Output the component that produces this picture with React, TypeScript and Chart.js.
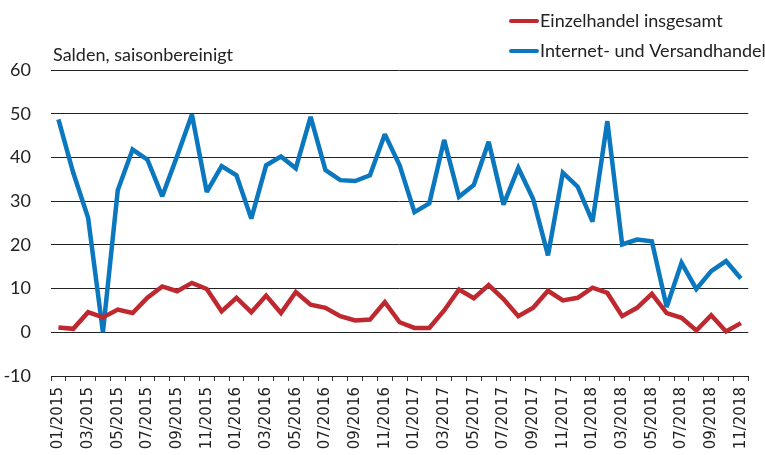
import React, { useEffect, useRef } from "react";
import { Chart, registerables } from "chart.js";

Chart.register(...registerables);

const months: string[] = [];
for (let y = 2015; y <= 2018; y++) {
  for (let m = 1; m <= 12; m++) {
    if (y === 2018 && m > 11) break;
    months.push(String(m).padStart(2, "0") + "/" + y);
  }
}

const einzelhandel = [
  1.1, 0.8, 4.6, 3.4, 5.2, 4.4, 7.9, 10.5, 9.4, 11.3, 9.9, 4.8,
  7.9, 4.6, 8.4, 4.4, 9.2, 6.3, 5.6, 3.7, 2.7, 2.9, 6.9, 2.3,
  1.0, 1.0, 5.0, 9.8, 7.8, 10.8, 7.6, 3.7, 5.6, 9.5, 7.3, 7.9,
  10.2, 9.0, 3.7, 5.6, 8.8, 4.4, 3.3, 0.4, 3.9, 0.2, 2.1,
];

const internet = [
  48.7, 36.5, 26.2, 0.0, 32.5, 41.8, 39.5, 31.1, 40.3, 49.8, 32.1, 38.0,
  35.9, 26.0, 38.2, 40.2, 37.5, 49.3, 37.1, 34.8, 34.6, 35.9, 45.3, 38.2,
  27.5, 29.5, 44.0, 31.0, 33.7, 43.6, 29.2, 37.6, 30.5, 17.6, 36.5, 33.3,
  25.3, 48.3, 20.1, 21.2, 20.8, 5.8, 15.9, 9.9, 14.0, 16.3, 12.3,
];

const seriesNames = ["Einzelhandel insgesamt", "Internet- und Versandhandel"];
const seriesColors = ["#bf282e", "#0b77bf"];
const yTitle = "Salden, saisonbereinigt";

const FONT = "Lato, 'Noto Sans', sans-serif";

const overlayPlugin = {
  id: "overlay",
  beforeDatasetsDraw(chart: any) {
    chart.ctx.miterLimit = 2.5;
  },
  afterDraw(chart: any) {
    const ctx = chart.ctx;
    ctx.save();
    ctx.font = `18px ${FONT}`;
    ctx.fillStyle = "#222";
    ctx.textBaseline = "middle";
    ctx.textAlign = "left";
    ctx.fillText(yTitle, 53, 55);
    chart.data.datasets.forEach((ds: any, i: number) => {
      const y = 21 + i * 30;
      ctx.strokeStyle = ds.borderColor;
      ctx.lineWidth = 4;
      ctx.lineCap = "round";
      ctx.beginPath();
      ctx.moveTo(511, y);
      ctx.lineTo(537, y);
      ctx.stroke();
      ctx.fillStyle = "#222";
      ctx.fillText(ds.label, 540, y);
    });
    ctx.restore();
  },
};

export default function App() {
  const ref = useRef<HTMLCanvasElement | null>(null);
  useEffect(() => {
    if (!ref.current) return;
    const chart = new Chart(ref.current, {
      type: "line",
      data: {
        labels: months,
        datasets: [
          {
            label: seriesNames[0],
            data: einzelhandel,
            borderColor: seriesColors[0],
            backgroundColor: seriesColors[0],
            borderWidth: 4.5,
            pointRadius: 0,
            tension: 0,
          },
          {
            label: seriesNames[1],
            data: internet,
            borderColor: seriesColors[1],
            backgroundColor: seriesColors[1],
            borderWidth: 4.5,
            pointRadius: 0,
            tension: 0,
          },
        ],
      },
      options: {
        animation: false,
        responsive: false,
        maintainAspectRatio: false,
        layout: { padding: { top: 70, right: 13, bottom: 0, left: 0 } },
        plugins: {
          legend: { display: false },
          tooltip: { enabled: false },
          title: { display: false },
        },
        scales: {
          x: {
            type: "category",
            offset: true,
            grid: {
              offset: true,
              drawOnChartArea: false,
              drawTicks: true,
              tickLength: 5,
              color: "#333",
            },
            border: { display: true, color: "#222", width: 1 },
            ticks: {
              autoSkip: false,
              maxRotation: 90,
              minRotation: 90,
              padding: 6,
              color: "#222",
              font: { family: "'DejaVu Sans'", size: 15 },
              callback: function (_v: any, i: number) {
                return i % 2 === 0 ? months[i] : "";
              },
            },
            afterFit: (axis: any) => {
              axis.height = 79;
            },
          },
          y: {
            min: -10,
            max: 60,
            grid: {
              drawTicks: false,
              color: "#222",
              lineWidth: 1,
            },
            border: { display: false },
            ticks: {
              stepSize: 10,
              padding: 20,
              color: "#222",
              font: { family: FONT, size: 18 },
            },
            afterFit: (axis: any) => {
              axis.width = 51;
            },
          },
        },
      },
      plugins: [overlayPlugin],
    });
    return () => chart.destroy();
  }, []);
  return (
    <div style={{ position: "fixed", left: 0, top: 0, width: 765, height: 455, background: "#fff" }}>
      <canvas ref={ref} width={765} height={455} style={{ width: 765, height: 455, display: "block" }} />
    </div>
  );
}
